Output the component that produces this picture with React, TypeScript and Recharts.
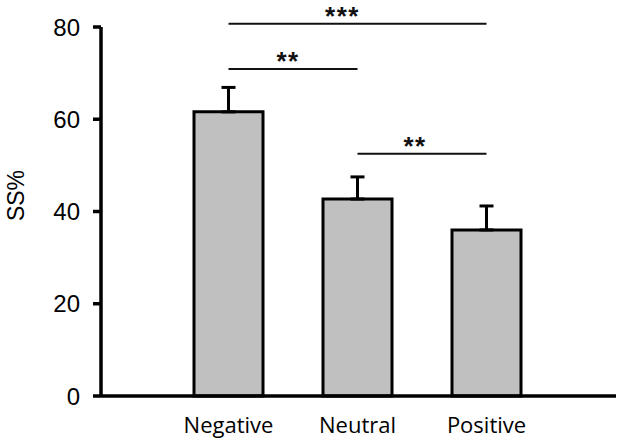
import { BarChart, Bar, XAxis, YAxis, ErrorBar, ReferenceLine, Label } from 'recharts'

const conditions = ['Negative', 'Neutral', 'Positive']
const ssMean = [61.6, 42.7, 36.0]
const ssError = [5.3, 4.8, 5.2]
const yTicks = [0, 20, 40, 60, 80]

const bracketFrom = ['Negative', 'Negative', 'Neutral']
const bracketTo = ['Positive', 'Neutral', 'Positive']
const bracketLevel = [80.7, 70.9, 52.5]
const bracketMark = ['***', '**', '**']

const chartData = conditions.map((name, i) => ({
  name,
  ss: ssMean[i],
  err: [0, ssError[i]],
}))

// small nudges so the stars sit where they do in the figure
const markShift = [-15, -5, -7]

const XTick = ({ x, y, payload }: any) => (
  <text x={x} y={y + 37} textAnchor="middle" fontFamily="Open Sans" fontSize={22} fill="#000">
    {payload.value}
  </text>
)

const YTitle = ({ viewBox }: any) => {
  const cx = 16
  const cy = viewBox.y + viewBox.height / 2 - 16
  return (
    <text
      x={cx}
      y={cy}
      transform={`rotate(-90, ${cx}, ${cy})`}
      textAnchor="middle"
      dominantBaseline="central"
      fontFamily="Liberation Sans"
      fontSize={23}
      fill="#000"
    >
      SS%
    </text>
  )
}

const starLabel = (mark: string, shift: number) => (props: any) => {
  const vb = props.viewBox
  return (
    <text
      x={vb.x + vb.width / 2 + shift}
      y={vb.y + 1}
      textAnchor="middle"
      fontFamily="Liberation Sans"
      fontWeight="bold"
      fontSize={26}
      letterSpacing={1.5}
      fill="#111"
    >
      {mark}
    </text>
  )
}

export default function App() {
  return (
    <div style={{ position: 'absolute', left: 0, top: 0 }}>
      <BarChart
        width={620}
        height={443}
        data={chartData}
        margin={{ top: 27, right: 4, bottom: 0, left: 0 }}
      >
        <XAxis
          dataKey="name"
          height={47}
          padding={{ left: 63, right: 65 }}
          tickLine={false}
          tickSize={0}
          tickMargin={0}
          axisLine={{ stroke: '#000', strokeWidth: 3.5 }}
          tick={<XTick />}
        />
        <YAxis
          width={101}
          domain={[0, 80]}
          ticks={yTicks}
          tickSize={8}
          tickMargin={13}
          axisLine={{ stroke: '#000', strokeWidth: 3.5 }}
          tickLine={{ stroke: '#000', strokeWidth: 3.5 }}
          tick={{ fill: '#000', fontSize: 24, fontFamily: 'Liberation Sans' }}
        >
          <Label content={<YTitle />} />
        </YAxis>
        <Bar dataKey="ss" barSize={69} fill="#c0c0c0" stroke="#000" strokeWidth={3} isAnimationActive={false}>
          <ErrorBar dataKey="err" direction="y" width={7} stroke="#000" strokeWidth={3} />
        </Bar>
        {bracketLevel.map((lvl, i) => (
          <ReferenceLine
            key={i}
            ifOverflow="visible"
            segment={[
              { x: bracketFrom[i], y: lvl },
              { x: bracketTo[i], y: lvl },
            ]}
            stroke="#111"
            strokeWidth={2}
            label={starLabel(bracketMark[i], markShift[i])}
          />
        ))}
      </BarChart>
    </div>
  )
}
